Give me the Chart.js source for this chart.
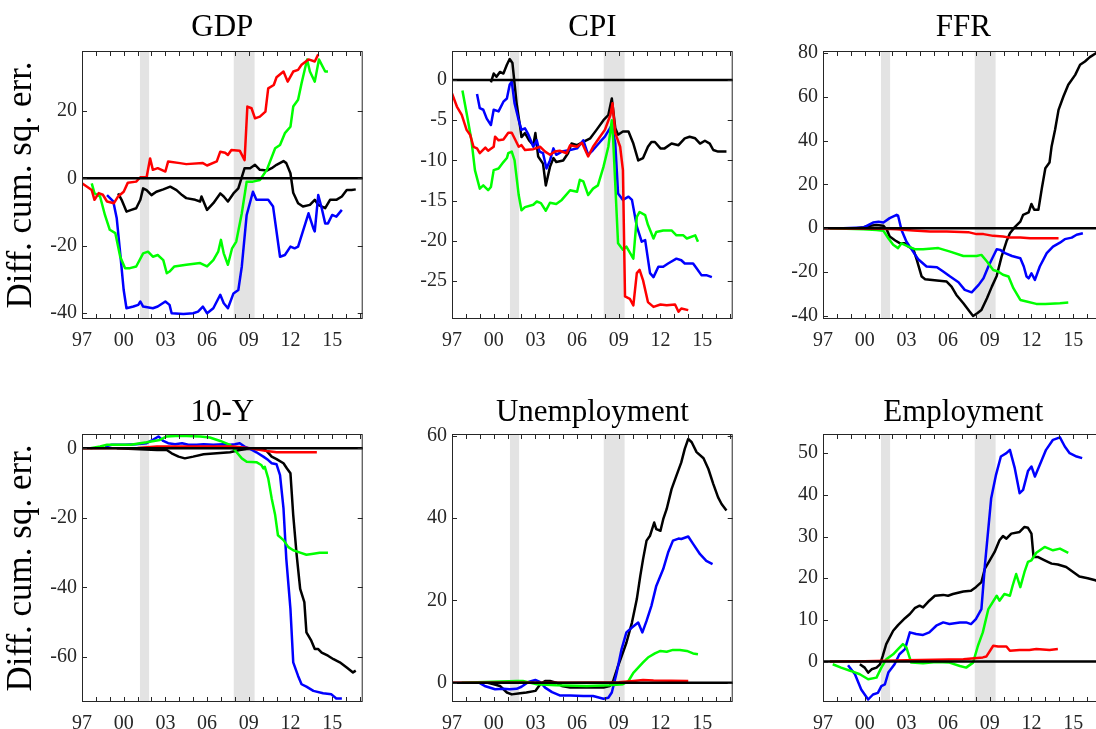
<!DOCTYPE html>
<html>
<head>
<meta charset="utf-8">
<script src="https://cdn.jsdelivr.net/npm/chart.js@4.4.1/dist/chart.umd.min.js"></script>
<style>
  html, body { margin: 0; padding: 0; background: #fff; overflow: hidden; width: 1096px; height: 729px; }
  canvas { position: absolute; }
</style>
</head>
<body>
<canvas id="c0" width="370" height="360" style="left:0px;top:0px"></canvas>
<canvas id="c1" width="370" height="360" style="left:370px;top:0px"></canvas>
<canvas id="c2" width="370" height="360" style="left:741px;top:0px"></canvas>
<canvas id="c3" width="370" height="360" style="left:0px;top:383px"></canvas>
<canvas id="c4" width="370" height="360" style="left:370px;top:383px"></canvas>
<canvas id="c5" width="370" height="360" style="left:741px;top:383px"></canvas>
<script>
// recession periods (years)
var recessions = [[2001.17, 2001.83], [2007.92, 2009.42]];

// GDP
var gdpRed = [[1997,-1.5],[1997.7,-3.5],[1997.9,-6.4],[1998.2,-4.4],[1998.5,-4.9],[1998.8,-6.9],[1999.3,-7.4],[1999.6,-5.4],[2000,-4],[2000.3,-1.3],[2000.9,-1],[2001.2,0.3],[2001.65,0.3],[2001.9,5.9],[2002.1,2.5],[2002.45,3],[2003,2],[2003.2,5],[2004.05,4.5],[2004.5,4.2],[2005.7,4.5],[2006,3.8],[2006.7,5],[2006.95,7.9],[2007.3,7.6],[2007.5,6.9],[2007.75,8.4],[2008.35,8.2],[2008.7,5.4],[2008.9,21.3],[2009.2,20.8],[2009.45,17.8],[2009.8,18.3],[2010.2,19.8],[2010.4,26.7],[2010.8,27.7],[2011,30],[2011.5,31.7],[2011.8,28.7],[2012.2,31.7],[2012.55,32.2],[2012.8,33.7],[2013.3,35.3],[2013.75,34.7],[2014,36.8]];
var gdpGreen = [[1997.7,-1.5],[1997.9,-4.5],[1998.3,-5.4],[1998.65,-10.9],[1999,-15.3],[1999.4,-16.3],[1999.75,-23.3],[2000.1,-26.7],[2000.45,-26.7],[2000.9,-26.2],[2001.4,-22.3],[2001.75,-21.8],[2002.1,-23.3],[2002.45,-22.8],[2002.85,-24.3],[2003.1,-28.2],[2003.3,-27.7],[2003.65,-26.2],[2004.5,-25.7],[2005.5,-25.2],[2006,-26.2],[2006.45,-24.3],[2006.8,-21.8],[2007,-18.3],[2007.2,-22.3],[2007.5,-25.7],[2007.8,-20.8],[2008.1,-18.8],[2008.5,-10.4],[2008.85,-1],[2009.3,-1],[2009.8,-0.5],[2010.3,2.5],[2010.9,8.9],[2011.25,9.9],[2011.6,13.4],[2012,15.3],[2012.2,21.3],[2012.55,23.3],[2012.8,28.2],[2013.2,35.3],[2013.4,31.7],[2013.75,28.7],[2014.05,35.3],[2014.5,31.7],[2014.7,31.7]];
var gdpBlue = [[1998.8,-5],[1999.25,-6.9],[1999.5,-11.9],[1999.75,-22.3],[2000,-33.2],[2000.2,-38.6],[2000.7,-38.1],[2001.05,-37.6],[2001.2,-36.6],[2001.4,-38.1],[2002.1,-38.6],[2002.45,-38.1],[2003,-36.6],[2003.3,-37.6],[2003.45,-40.1],[2004.3,-40.3],[2005,-40.1],[2005.35,-39.6],[2005.7,-38.1],[2006,-40.1],[2006.45,-38.6],[2006.95,-34.6],[2007.2,-37.1],[2007.5,-38.6],[2007.9,-34.2],[2008.25,-33.2],[2008.5,-26.2],[2008.85,-10.9],[2009.3,-4],[2009.55,-6.4],[2009.95,-6.4],[2010.4,-6.4],[2010.75,-8.4],[2011.25,-23.3],[2011.6,-22.8],[2012,-20.3],[2012.3,-20.8],[2012.55,-20.3],[2013.3,-10.4],[2013.65,-14.9],[2013.75,-15.8],[2014,-5],[2014.25,-8.9],[2014.5,-13.4],[2014.7,-13.4],[2015,-10.9],[2015.3,-11.4],[2015.7,-9.4]];
var gdpBlack = [[1999.6,-4.5],[1999.85,-6.4],[2000.2,-9.9],[2000.55,-9.4],[2000.9,-8.9],[2001.2,-6.4],[2001.4,-3],[2001.65,-3.5],[2002,-5],[2002.35,-4],[2002.85,-3.3],[2003.35,-2.5],[2003.8,-3.5],[2004.2,-5],[2004.5,-5.9],[2005.15,-6.4],[2005.5,-6.9],[2005.6,-5.4],[2006,-9.4],[2006.45,-7.4],[2006.95,-4.5],[2007.2,-5.4],[2007.5,-6.9],[2007.9,-4.5],[2008.25,-3],[2008.7,3],[2009.1,3],[2009.45,4],[2009.8,2.5],[2010.3,2.3],[2010.65,3],[2011,4],[2011.5,5.1],[2011.7,4.5],[2012,1.5],[2012.2,-4.3],[2012.55,-7.4],[2012.9,-8.4],[2013.4,-7.9],[2013.75,-6.4],[2014,-7.9],[2014.5,-8.9],[2014.85,-6.4],[2015.3,-6.4],[2015.7,-5.4],[2016.05,-3.5],[2016.4,-3.5],[2016.7,-3.3]];

// CPI
var cpiRed = [[1997,-1.66],[1997.35,-3.3],[1997.7,-4.35],[1998.05,-6.2],[1998.3,-6.8],[1998.55,-8.3],[1998.8,-8.5],[1999,-9.1],[1999.4,-8.4],[1999.6,-8.8],[2000,-8.3],[2000.1,-7.05],[2000.35,-7.5],[2000.7,-7.4],[2001.05,-6.55],[2001.3,-6.55],[2001.5,-7.25],[2001.8,-8.3],[2002,-8.1],[2002.25,-8.7],[2002.85,-8.6],[2003.35,-8.3],[2003.7,-8.9],[2004.05,-9.3],[2004.4,-8.9],[2004.75,-8.8],[2005.25,-9.1],[2005.5,-8.1],[2006,-8.3],[2006.35,-7.8],[2006.8,-9.5],[2007.15,-8.3],[2007.65,-7.05],[2008,-6.2],[2008.4,-4.35],[2008.55,-2.9],[2008.75,-6.6],[2009.1,-8.3],[2009.3,-11.2],[2009.45,-26.9],[2009.8,-27.2],[2010.05,-28],[2010.3,-24],[2010.5,-23.6],[2010.75,-24.9],[2011.1,-27.6],[2011.5,-28.2],[2012,-27.9],[2012.45,-28],[2013.05,-27.9],[2013.3,-28.8],[2013.5,-28.4],[2014,-28.6]];
var cpiGreen = [[1997.75,-1.3],[1998.05,-4.1],[1998.4,-7.5],[1998.65,-11.2],[1999,-13.5],[1999.25,-13.1],[1999.6,-13.7],[1999.8,-13.3],[2000,-11.2],[2000.35,-11],[2000.7,-10.2],[2000.95,-9.7],[2001.05,-9.1],[2001.3,-8.9],[2001.5,-9.95],[2001.8,-14.3],[2002,-16.2],[2002.25,-15.8],[2002.85,-15.5],[2003.1,-15.1],[2003.4,-15.3],[2003.75,-16.25],[2004.05,-15.25],[2004.5,-15.4],[2004.9,-14.9],[2005.5,-13.7],[2006,-13.9],[2006.2,-12.4],[2006.45,-12.6],[2006.8,-14.3],[2007.15,-13.5],[2007.5,-13.1],[2007.9,-10.8],[2008.25,-8.3],[2008.5,-5],[2008.6,-7.5],[2008.95,-20.3],[2009.3,-21.1],[2009.55,-20.7],[2010.05,-22.2],[2010.3,-17],[2010.5,-16.4],[2010.9,-16.8],[2011.1,-18],[2011.5,-19.7],[2011.7,-18.9],[2012.2,-18.7],[2012.8,-18.7],[2013.15,-19.3],[2013.65,-19.3],[2013.9,-19.7],[2014.5,-19.3],[2014.7,-20.1]];
var cpiBlue = [[1998.8,-1.75],[1999,-3.5],[1999.25,-3.7],[1999.5,-4.8],[1999.8,-5.6],[2000,-3.7],[2000.35,-3.9],[2000.7,-2.7],[2000.95,-2.3],[2001.15,-0.6],[2001.3,-0.2],[2001.5,-2.9],[2001.8,-5],[2002,-6.2],[2002.25,-6],[2002.5,-6.8],[2002.85,-8.3],[2003.1,-7.5],[2003.3,-8.9],[2003.55,-9.1],[2003.8,-11],[2004.05,-10],[2004.3,-8.5],[2004.5,-9.3],[2004.9,-8.9],[2005.5,-8.7],[2006,-8.5],[2006.45,-7.5],[2006.8,-9.3],[2007.15,-8.7],[2007.65,-7.7],[2008,-7.05],[2008.5,-5.6],[2008.75,-7.9],[2008.95,-14.1],[2009.3,-14.9],[2009.7,-14.5],[2009.95,-14.9],[2010.3,-18.2],[2010.65,-20.1],[2010.9,-19.9],[2011.25,-24],[2011.5,-24.5],[2011.85,-23.2],[2012.2,-23.2],[2012.55,-22.8],[2013.15,-22.2],[2013.5,-22.4],[2013.75,-22.8],[2014.35,-22.8],[2014.6,-23.4],[2014.95,-24.25],[2015.3,-24.25],[2015.7,-24.5]];
var cpiBlack = [[1999.8,-0.3],[2000,0.8],[2000.2,0.4],[2000.45,1],[2000.7,0.8],[2000.95,1.9],[2001.15,2.6],[2001.35,2.1],[2001.65,-2.9],[2001.9,-5.8],[2002,-7.1],[2002.25,-6.6],[2002.55,-7.5],[2002.85,-8.1],[2003,-6.6],[2003.2,-9.5],[2003.55,-10.4],[2003.75,-13.1],[2004.05,-10.8],[2004.3,-9.7],[2004.5,-10.2],[2005,-10],[2005.35,-9.1],[2005.6,-7.9],[2006,-8.1],[2006.45,-7.7],[2006.95,-7.25],[2007.4,-6.2],[2007.9,-5],[2008.25,-4.35],[2008.5,-2.3],[2008.75,-6],[2008.95,-6.8],[2009.3,-6.4],[2009.7,-6.4],[2010.05,-7.9],[2010.4,-10],[2010.75,-9.7],[2011.1,-8.3],[2011.35,-7.7],[2011.6,-7.7],[2012,-8.5],[2012.3,-8.5],[2012.8,-7.9],[2013.3,-8.1],[2013.75,-7.25],[2014.1,-7.05],[2014.5,-7.25],[2014.85,-7.9],[2015.2,-7.55],[2015.55,-7.9],[2015.8,-8.7],[2016.15,-8.9],[2016.75,-8.9]];

// FFR
var ffrRed = [[1997,0],[1999,-0.1],[2001.35,-0.3],[2002.3,-0.5],[2003.5,-1],[2004.7,-1.5],[2005.9,-1.5],[2007.45,-1.8],[2008.05,-2.7],[2008.55,-2.7],[2009.25,-3.5],[2009.95,-3.8],[2010.45,-4.3],[2011.2,-4.3],[2011.9,-4.6],[2012.85,-4.6],[2013.95,-4.6]];
var ffrGreen = [[1997.5,0],[1999.9,-0.5],[2000.85,-0.8],[2001.35,-1.2],[2001.7,-4.6],[2002.05,-7.6],[2002.4,-9.1],[2002.65,-6.9],[2003.15,-8.4],[2003.6,-9.6],[2004.2,-9.6],[2005.3,-9.1],[2006.15,-10.7],[2007.1,-12.7],[2008.05,-12.7],[2008.4,-12.2],[2008.8,-15.2],[2009.25,-19.1],[2009.6,-19.8],[2009.95,-21.3],[2010.35,-22.1],[2010.7,-27.4],[2011.2,-32.8],[2011.65,-33.5],[2012.35,-34.6],[2013,-34.6],[2014.05,-34.3],[2014.65,-34]];
var ffrBlue = [[1998.45,0],[1999.9,0.3],[2000.6,2.6],[2001,2.9],[2001.35,2.6],[2001.8,4.6],[2002.3,6.1],[2002.4,5.8],[2002.65,-0.8],[2003,-6.1],[2003.4,-9.9],[2003.85,-14.2],[2004.45,-17.5],[2005.2,-17.8],[2005.65,-19.8],[2006.15,-22.1],[2006.75,-24.7],[2007.2,-28.2],[2007.7,-29.3],[2008.2,-25.9],[2008.55,-22.9],[2008.9,-17.5],[2009.15,-14.2],[2009.5,-9.6],[2009.75,-9.9],[2010.1,-11.4],[2010.6,-12.7],[2011.2,-13.7],[2011.45,-17.5],[2011.65,-22.1],[2011.8,-22.9],[2012,-20.6],[2012.25,-23.6],[2012.6,-17.5],[2013.1,-11.4],[2013.55,-8.4],[2014.05,-6.6],[2014.4,-5],[2014.9,-4.3],[2015.25,-3],[2015.7,-2.3]];
var ffrBlack = [[1999.4,0],[1999.9,0.5],[2000.4,1.1],[2000.85,1.5],[2001.35,1.1],[2001.6,-0.8],[2001.8,-3.8],[2002.2,-5.6],[2002.55,-6.9],[2002.9,-6.9],[2003.15,-8.4],[2003.5,-9.6],[2003.75,-14.5],[2004.1,-22.1],[2004.35,-23.3],[2005.2,-23.9],[2005.9,-24.4],[2006.25,-26.7],[2006.6,-30.5],[2007.1,-34.3],[2007.55,-38.1],[2007.8,-40.1],[2008.1,-38.9],[2008.4,-37.4],[2008.8,-32],[2009.15,-26.7],[2009.5,-21.8],[2009.85,-13],[2010.2,-6.1],[2010.45,-2.3],[2010.8,0.5],[2011.2,3],[2011.4,6.1],[2011.8,7.2],[2012,11.1],[2012.2,8.4],[2012.5,8.4],[2012.75,18.3],[2013,27.4],[2013.3,30],[2013.45,37.4],[2013.7,45],[2013.95,54.1],[2014.3,60.2],[2014.65,65.6],[2015.15,70.1],[2015.5,74.7],[2015.85,76.2],[2016.2,78.2],[2016.75,80.4]];

// 10-Y
var tenRed = [[1997,0],[2001,0.1],[2002.4,0.5],[2005,0.5],[2007.9,0.5],[2009.1,0],[2010.3,-0.8],[2011,-1.15],[2012,-1.15],[2013.9,-1.15]];
var tenGreen = [[1997.6,0],[1998.3,0.5],[1998.8,1],[2000.5,1],[2001.65,1.7],[2002.6,2.4],[2003.1,3.4],[2004.05,3.6],[2005.5,3.4],[2006.2,3.1],[2006.95,2.1],[2007.65,1],[2008.1,-1],[2008.5,-2.9],[2008.85,-3.85],[2009.55,-4],[2009.9,-4.8],[2010.05,-5.8],[2010.15,-5.3],[2010.4,-8.65],[2010.65,-14.4],[2010.9,-19.2],[2011.1,-25],[2011.5,-26.4],[2011.85,-28.4],[2012.2,-29.3],[2012.7,-30],[2013.15,-30.6],[2013.65,-30.3],[2014.1,-30],[2014.7,-30]];
var tenBlue = [[1998.65,0.5],[1999.15,1],[2000.1,1],[2000.9,1.15],[2001.65,1.45],[2002.1,2.4],[2002.5,3.4],[2002.85,2.1],[2003.2,1.45],[2003.7,1.15],[2004.2,1.45],[2004.65,1],[2005.25,1],[2005.75,1.15],[2006.45,1],[2007.15,1.15],[2007.65,1],[2008,1.15],[2008.35,1.45],[2008.7,0.5],[2009.1,-0.2],[2009.55,-1.15],[2010.05,-2.4],[2010.4,-3.4],[2010.65,-4.3],[2011,-4.6],[2011.25,-7.7],[2011.5,-17.3],[2011.7,-31.7],[2012,-46.2],[2012.2,-61.5],[2012.55,-65.4],[2012.8,-67.8],[2013.15,-68.5],[2013.65,-69.7],[2014.35,-70.4],[2014.95,-70.7],[2015.3,-71.9],[2015.7,-71.9]];
var tenBlack = [[1999.5,0],[2002.4,-0.5],[2003.1,-0.5],[2003.45,-1.45],[2003.95,-2.4],[2004.4,-2.9],[2005,-2.4],[2005.75,-1.7],[2006.7,-1.45],[2007.65,-1.15],[2008.35,-0.5],[2008.85,-0.2],[2010,-0.2],[2010.3,-0.8],[2010.65,-2.4],[2011,-3.1],[2011.5,-4.3],[2011.75,-5.8],[2012,-7.2],[2012.2,-19.2],[2012.45,-30.8],[2012.7,-40.4],[2013,-44.2],[2013.15,-52.9],[2013.5,-55.3],[2013.75,-57.7],[2014,-57.7],[2014.25,-58.7],[2014.7,-59.6],[2015.1,-60.6],[2015.55,-61.5],[2016.05,-63],[2016.5,-64.4],[2016.7,-63.9]];

// Unemployment
var unRed = [[1997,0],[2000,0],[2005,0],[2009,0.1],[2010.05,0.4],[2010.75,0.65],[2011.5,0.5],[2014,0.4]];
var unGreen = [[1997.7,0],[2001.65,0.4],[2002.1,0.4],[2003.1,-0.4],[2004.5,-0.65],[2006.7,-0.8],[2008.35,-0.65],[2009.3,-0.4],[2009.7,0.4],[2010.05,2.4],[2010.4,3.65],[2010.75,4.9],[2011.1,6.1],[2011.6,7.1],[2012,7.7],[2012.45,7.5],[2012.9,7.95],[2013.4,7.95],[2013.9,7.7],[2014.35,7.1],[2014.7,6.9]];
var unBlue = [[1999,-0.15],[1999.35,-0.8],[2000.1,-1.6],[2000.7,-1.5],[2001.15,-1.6],[2001.65,-1.5],[2002,-1],[2002.5,0.15],[2003,0.65],[2003.35,0.15],[2003.7,-1.2],[2004.2,-2.3],[2004.75,-3.1],[2005.5,-3.1],[2006.45,-3.25],[2007.15,-3.25],[2007.9,-3.9],[2008.25,-3.65],[2008.5,-2.4],[2008.85,2.4],[2009.2,8.1],[2009.55,12.2],[2009.95,13.4],[2010.4,14.6],[2010.7,12.2],[2011,15],[2011.35,18.65],[2011.7,23.5],[2012.2,27.6],[2012.55,31.6],[2012.9,34.5],[2013.3,35],[2013.5,34.9],[2014,35.5],[2014.35,33.7],[2014.85,31.2],[2015.3,29.6],[2015.75,28.8]];
var unBlack = [[1999.5,0],[2000,-0.4],[2000.45,-0.8],[2000.95,-2.4],[2001.3,-2.85],[2001.9,-2.6],[2002.35,-2.4],[2003,-2],[2003.35,-0.4],[2003.7,0.4],[2004.05,0.4],[2004.5,0],[2004.9,-0.8],[2005.5,-1.2],[2006.5,-1.2],[2007.9,-1.2],[2008.35,-0.8],[2008.6,0.4],[2008.95,4.05],[2009.3,7.3],[2009.55,9.7],[2009.95,14.6],[2010.3,20.3],[2010.55,25.95],[2010.75,30],[2011,34.5],[2011.25,35.7],[2011.55,38.9],[2011.7,37.3],[2012,36.9],[2012.2,39.7],[2012.45,42.2],[2012.8,47],[2013.15,50.3],[2013.5,53.5],[2013.75,56.8],[2014,59.2],[2014.25,58.4],[2014.6,56],[2015.1,54.5],[2015.45,51.9],[2015.8,48.3],[2016.15,45],[2016.4,43.4],[2016.75,41.8]];

// Employment
var empRed = [[1997.5,0],[2000,0.1],[2003,0.3],[2007.1,0.55],[2008.5,1],[2008.75,1.2],[2009.25,3.8],[2009.6,3.6],[2010.2,3.6],[2010.45,2.6],[2011.15,2.8],[2011.85,2.8],[2012.35,3],[2013.3,2.8],[2013.9,3]];
var empGreen = [[1997.7,-0.65],[1998.3,-1.45],[1999,-2.25],[1999.65,-3.05],[2000.25,-4.25],[2000.85,-3.85],[2001.2,-1.45],[2001.55,0.55],[2002.05,1.75],[2002.4,3],[2002.75,4.2],[2003,3.4],[2003.35,-0.25],[2004.2,-0.4],[2005.15,-0.1],[2006.1,-0.25],[2006.85,-1.05],[2007.3,-1.45],[2007.8,-0.25],[2008.15,3.8],[2008.5,7],[2008.9,12.6],[2009.5,15.8],[2009.7,14.6],[2010.05,16.2],[2010.45,15.8],[2010.65,18.25],[2010.9,21],[2011.2,17.85],[2011.5,21.5],[2011.75,23.9],[2012,24.3],[2012.35,26.1],[2012.95,27.5],[2013.55,26.7],[2014.05,27.1],[2014.65,26.1]];
var empBlue = [[1998.8,-0.9],[1999.3,-3.05],[1999.75,-6.7],[2000.25,-9.1],[2000.6,-7.9],[2000.95,-7.5],[2001.2,-5.9],[2001.45,-5.5],[2001.7,-2.65],[2002.15,-0.65],[2002.5,1.75],[2002.9,3],[2003.25,7],[2003.7,6.6],[2004.2,6.4],[2004.65,7],[2005.15,8.6],[2005.65,9.4],[2006.1,9],[2006.85,9.4],[2007.3,9.4],[2007.65,9],[2008,10.2],[2008.4,12.6],[2008.65,23.1],[2009.1,39.1],[2009.45,44.8],[2009.8,49.2],[2010.2,50],[2010.45,50.8],[2010.8,46.4],[2011.15,40.4],[2011.4,41.2],[2011.75,45.7],[2012,46.8],[2012.25,44.4],[2012.7,48],[2013.05,50.8],[2013.55,53.2],[2014.05,53.8],[2014.4,51.6],[2014.75,50],[2015.25,49.2],[2015.65,48.8]];
var empBlack = [[1999.65,-0.65],[2000,-1.45],[2000.25,-2.65],[2000.5,-1.85],[2000.85,-1.45],[2001.1,-0.65],[2001.3,1.35],[2001.55,4.2],[2002.05,7.4],[2002.4,8.75],[2002.9,10.4],[2003.25,11.4],[2003.6,12.8],[2003.95,13.4],[2004.2,13],[2004.65,14.6],[2005.05,15.8],[2005.65,16],[2006,15.8],[2006.35,16.2],[2007.1,16.8],[2007.65,17],[2008,17.85],[2008.4,19.05],[2008.65,22.3],[2009,24.3],[2009.35,26.3],[2009.7,29.1],[2009.95,30.1],[2010.2,29.5],[2010.55,30.7],[2011.15,31.1],[2011.5,32.3],[2011.75,32.1],[2012,30.7],[2012.15,25.1],[2012.45,25.1],[2012.95,24.3],[2013.45,23.5],[2013.9,23.3],[2014.5,22.7],[2015,21.5],[2015.45,20.4],[2016.05,20],[2016.6,19.5],[2016.75,19.3]];

var seriesColors = ["#ff0000", "#00ff00", "#0000ff", "#000000"];
var axisColor = "#262626";
var serif = "'Liberation Serif', 'Times New Roman', serif";

//panels: title, y range, tick step, series
var panels = [
    { title: "GDP", min: -41.8, max: 37.8, step: 20, series: [gdpRed, gdpGreen, gdpBlue, gdpBlack], ylabel: true, row: 0 },
    { title: "CPI", min: -29.7, max: 3.6, step: 5, series: [cpiRed, cpiGreen, cpiBlue, cpiBlack], ylabel: false, row: 0 },
    { title: "FFR", min: -41.5, max: 81, step: 20, series: [ffrRed, ffrGreen, ffrBlue, ffrBlack], ylabel: false, row: 0 },
    { title: "10-Y", min: -72.9, max: 4.1, step: 20, series: [tenRed, tenGreen, tenBlue, tenBlack], ylabel: true, row: 1 },
    { title: "Unemployment", min: -4.7, max: 60.4, step: 20, series: [unRed, unGreen, unBlue, unBlack], ylabel: false, row: 1 },
    { title: "Employment", min: -9.7, max: 54.6, step: 10, series: [empRed, empGreen, empBlue, empBlack], ylabel: false, row: 1 }
];

//recession shading, zero line, box and inward ticks
var framePlugin = {
    id: "frame",
    beforeDatasetsDraw: function(chart) {
        var ctx = chart.ctx, a = chart.chartArea, x = chart.scales.x;
        ctx.save();
        ctx.fillStyle = "#e3e3e3";
        recessions.forEach(function(r) {
            var x0 = x.getPixelForValue(r[0]), x1 = x.getPixelForValue(r[1]);
            ctx.fillRect(x0, a.top, x1 - x0, a.bottom - a.top);
        });
        ctx.restore();
    },
    afterDatasetsDraw: function(chart) {
        var ctx = chart.ctx, a = chart.chartArea, x = chart.scales.x, y = chart.scales.y;
        ctx.save();
        var y0 = y.getPixelForValue(0);
        ctx.strokeStyle = "#000";
        ctx.lineWidth = 2.5;
        ctx.beginPath();
        ctx.moveTo(a.left, y0);
        ctx.lineTo(a.right, y0);
        ctx.stroke();

        ctx.strokeStyle = axisColor;
        ctx.lineWidth = 1;
        ctx.strokeRect(a.left + 0.5, a.top + 0.5, a.right - a.left - 1, a.bottom - a.top - 1);
        ctx.beginPath();
        x.ticks.forEach(function(t) {
            var px = Math.round(x.getPixelForValue(t.value)) + 0.5;
            ctx.moveTo(px, a.bottom);
            ctx.lineTo(px, a.bottom - 5);
            ctx.moveTo(px, a.top);
            ctx.lineTo(px, a.top + 5);
        });
        y.ticks.forEach(function(t) {
            var py = Math.round(y.getPixelForValue(t.value)) + 0.5;
            ctx.moveTo(a.left, py);
            ctx.lineTo(a.left + 5, py);
            ctx.moveTo(a.right, py);
            ctx.lineTo(a.right - 5, py);
        });
        ctx.stroke();
        ctx.restore();
    }
};

panels.forEach(function(p, i) {
    var ctx = document.getElementById("c" + i);

    var data = {
        datasets: p.series.map(function(s, k) {
            return {
                data: s.map(function(pt) { return { x: pt[0], y: pt[1] }; }),
                borderColor: seriesColors[k],
                borderWidth: 2.5,
                borderJoinStyle: "round",
                fill: false,
                tension: 0,
                pointRadius: 0
            };
        })
    };

    var options = {
        responsive: false,
        animation: false,
        layout: { padding: 0 },
        plugins: {
            legend: { display: false },
            tooltip: { enabled: false },
            title: {
                display: true,
                text: p.title,
                fullSize: false,
                color: "#000",
                font: { family: serif, size: 31, weight: "normal", lineHeight: 1.2 },
                padding: p.row === 0 ? { top: 9, bottom: 4.8 } : { top: 11, bottom: 2.8 }
            }
        },
        scales: {
            x: {
                type: "linear",
                min: 1997,
                max: 2017.2,
                grid: { display: false, drawTicks: false },
                border: { display: false },
                ticks: {
                    stepSize: 1,
                    maxTicksLimit: 40,
                    includeBounds: false,
                    autoSkip: false,
                    maxRotation: 0,
                    padding: 10,
                    color: axisColor,
                    font: { family: serif, size: 20 },
                    callback: function(v) {
                        var yr = Math.round(v);
                        return (yr - 1997) % 3 === 0 ? String(yr % 100).padStart(2, "0") : "";
                    }
                },
                afterFit: function(scale) { scale.height = 41; }
            },
            y: {
                min: p.min,
                max: p.max,
                grid: { display: false, drawTicks: false },
                border: { display: false },
                ticks: {
                    stepSize: p.step,
                    includeBounds: false,
                    padding: 5,
                    color: axisColor,
                    font: { family: serif, size: 20 }
                },
                title: {
                    display: p.ylabel,
                    text: "Diff. cum. sq. err.",
                    color: "#000",
                    font: { family: serif, size: 35, lineHeight: 1.2 },
                    padding: { top: 1, bottom: 0 }
                },
                afterFit: function(scale) { scale.width = 82; }
            }
        }
    };

    new Chart(ctx, {
        type: "line",
        data: data,
        options: options,
        plugins: [framePlugin]
    });
});
</script>
</body>
</html>
